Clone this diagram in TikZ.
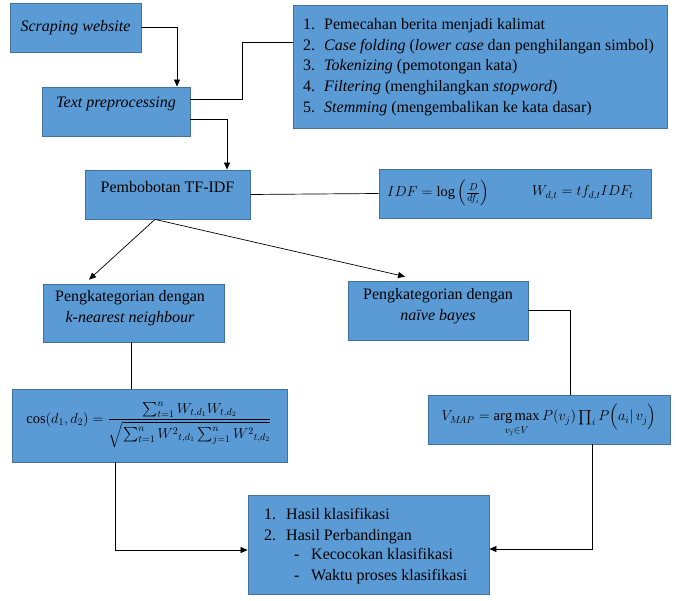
\documentclass[tikz,border=0pt]{standalone}
\usepackage{amsmath}
\usepackage{fontspec}
\setmainfont{Liberation Serif}
\usetikzlibrary{arrows.meta,calc}
\definecolor{boxfill}{HTML}{5B9BD5}
\definecolor{boxline}{HTML}{41719C}
\begin{document}
\begin{tikzpicture}[x=1pt,y=-1pt,
  box/.style={draw=boxline, fill=boxfill, line width=0.8pt, inner sep=0pt},
  lbl/.style={inner sep=0pt, font=\rmfamily\fontsize{16}{19}\selectfont},
  mth/.style={inner sep=0pt, font=\rmfamily\fontsize{14.5}{17}\selectfont},
  itm/.style={lbl, anchor=base west},
  conn/.style={line width=0.7pt, black},
  arr/.style={conn, -{Triangle[length=7pt,width=6pt]}}]
\useasboundingbox (0,0) rectangle (676,601);
% boxes
\node[box, minimum width=131pt, minimum height=49pt] (sc) at (75.5,27.5) {};
\node[box, minimum width=148pt, minimum height=49pt] (tp) at (116,111.5) {};
\node[box, minimum width=374pt, minimum height=123pt] (list) at (480,66.5) {};
\node[box, minimum width=165pt, minimum height=49pt] (pb) at (167.5,194.5) {};
\node[box, minimum width=272pt, minimum height=49pt] (idf) at (515,193.5) {};
\node[box, minimum width=181pt, minimum height=58pt] (knn) at (133.5,313) {};
\node[box, minimum width=180pt, minimum height=59pt] (nb) at (438,310.5) {};
\node[box, minimum width=275pt, minimum height=73pt] (cos) at (150,425.5) {};
\node[box, minimum width=242pt, minimum height=49pt] (vmap) at (549,419.5) {};
\node[box, minimum width=241pt, minimum height=99pt] (res) at (368.5,544.5) {};
% texts
\node[lbl] (tsc) at (75.5,27.5) {\itshape Scraping website};
\node[lbl] (ttp) at (116,104) {\itshape Text preprocessing};
\node[itm] (l1n) at (303,30) {1.};
\node[itm] (l1) at (324,30) {Pemecahan berita menjadi kalimat};
\node[itm] (l2n) at (303,51) {2.};
\node[itm] (l2) at (324,51) {\textit{Case folding} (\textit{lower case} dan penghilangan simbol)};
\node[itm] (l3n) at (303,71) {3.};
\node[itm] (l3) at (324,71) {\textit{Tokenizing} (pemotongan kata)};
\node[itm] (l4n) at (303,92) {4.};
\node[itm] (l4) at (324,92) {\textit{Filtering} (menghilangkan \textit{stopword})};
\node[itm] (l5n) at (303,113) {5.};
\node[itm] (l5) at (324,113) {\textit{Stemming} (mengembalikan ke kata dasar)};
\node[lbl] (tpb) at (167.5,187) {Pembobotan TF-IDF};
\node[mth, anchor=west] (f1) at (387,193) {$IDF=\log\left(\frac{D}{df_i}\right)$};
\node[mth, anchor=west] (f2) at (532,193) {$W_{d,t}=tf_{d,t}IDF_t$};
\node[lbl] (tk1) at (130,298) {Pengkategorian dengan};
\node[lbl] (tk2) at (130,319) {\itshape k-nearest neighbour};
\node[lbl] (tn1) at (438,296) {Pengkategorian dengan};
\node[lbl] (tn2) at (438,317) {\itshape naïve bayes};
\node[mth] (fcos) at (149,425) {$\cos(d_1,d_2)=\dfrac{\sum\nolimits_{t=1}^{n} W_{t,d_1}W_{t,d_2}}{\sqrt{\sum\nolimits_{t=1}^{n} {W^2}_{t,d_1}\sum\nolimits_{j=1}^{n} {W^2}_{t,d_2}}}$};
\node[mth] (fvmap) at (549,421) {$V_{M\!AP}=\operatorname*{arg\,max}\limits_{v_j\in V} P(v_j)\prod\nolimits_i P\Bigl(a_i|\,v_j\Bigr)$};
\node[itm] (r1n) at (264,519) {1.};
\node[itm] (r1) at (286,519) {Hasil klasifikasi};
\node[itm] (r2n) at (264,540) {2.};
\node[itm] (r2) at (286,540) {Hasil Perbandingan};
\node[itm] (r3n) at (294,559) {-};
\node[itm] (r3) at (311,559) {Kecocokan klasifikasi};
\node[itm] (r4n) at (294,580) {-};
\node[itm] (r4) at (311,580) {Waktu proses klasifikasi};
% connectors
\draw[arr] (sc.east) -| ([xshift=61pt]tp.north);
\draw[conn] ([yshift=12.5pt]tp.east) -- ++(52,0) |- ([yshift=24.5pt]list.west);
\draw[arr] ([yshift=-7.5pt]tp.east) -| ([xshift=59.5pt]pb.north);
\draw[conn] (pb.east) -- (idf.west);
\draw[arr] ([xshift=-12.5pt]pb.south) -- ([xshift=-44.5pt,yshift=4pt]knn.north);
\draw[arr] ([xshift=-12.5pt]pb.south) -- ([xshift=-33pt,yshift=4pt]nb.north);
\draw[conn] ([xshift=-2.5pt]knn.south) -- ([xshift=-2.5pt]knn.south |- cos.north);
\draw[conn] (nb.east) -| ([xshift=21pt]vmap.north);
\draw[arr] ([xshift=-35pt]cos.south) |- ([yshift=-5.5pt]res.west);
\draw[arr] ([xshift=43pt]vmap.south) |- ([yshift=-4.5pt]res.east);
\end{tikzpicture}
\end{document}
